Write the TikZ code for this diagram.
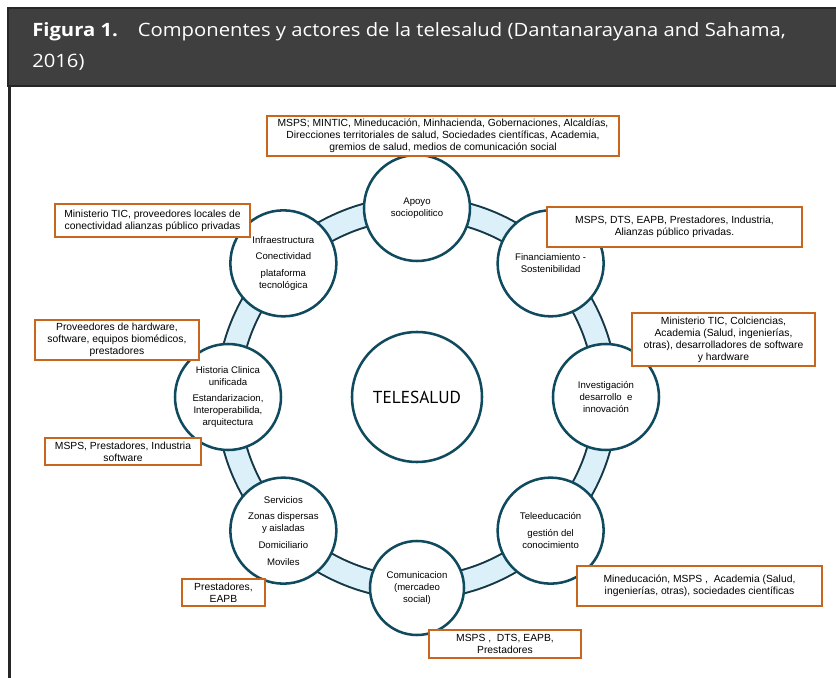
\documentclass[tikz,border=0pt]{standalone}
\usepackage{fontspec}
\setmainfont{Liberation Sans}
\newfontfamily\titlefont{Open Sans}[FakeStretch=1.1]
\newfontfamily\centrofont{PT Sans}
\usetikzlibrary{backgrounds}
\definecolor{ringline}{HTML}{0F4A5E}
\definecolor{bandfill}{HTML}{DCF0FA}
\definecolor{bandline}{HTML}{153847}
\definecolor{actorline}{HTML}{C8661E}
\definecolor{titlebar}{HTML}{3F3F3F}

\begin{document}
\begin{tikzpicture}[x=0.75pt,y=0.75pt]
    \tikzstyle{comp}=[draw=ringline,line width=1.9pt,fill=white,shape=circle,minimum size=79.5pt,inner sep=0pt,align=center,font=\fontsize{7.2}{9}\selectfont]
    \tikzstyle{actor}=[draw=actorline,line width=1.8pt,fill=white,inner sep=0pt,align=center,font=\fontsize{7.75}{9}\selectfont]
    \tikzstyle{band}=[draw=bandline,line width=1.5pt,double=bandfill,double distance=15.75pt]
    \tikzstyle{arco}=[bend left=22.5,looseness=0.886]
    \useasboundingbox (-417,-281) rectangle (419,397);
    \filldraw[fill=titlebar,draw=black!85,line width=1pt] (-409,311) rectangle (421,389);
    \draw[black!85,line width=2pt] (-407.5,311) -- (-407.5,-283);
    \node[anchor=base west,text=white,align=left,inner sep=0pt,font=\titlefont\fontsize{13.8}{23.25}\selectfont] (titulo) at (-385,329)
        {\textbf{Figura 1.}\hspace{15pt}Componentes y actores de la telesalud (Dantanarayana and Sahama,\\2016)};

    \node[comp,minimum size=97.5pt,font=\centrofont\fontsize{13}{15}\selectfont] (telesalud) at (0,0) {TELESALUD};
    \node[comp] (apoyo) at (90:189) {Apoyo\\sociopolitico};
    \node[comp] (financ) at (45:189) {Financiamiento -\\Sostenibilidad};
    \node[comp] (invest) at (0:189) {Investigación\\desarrollo\ \ e\\innovación};
    \node[comp] (teleedu) at (-45:189) {Teleeducación\\[3.5pt]gestión del\\conocimiento};
    \node[comp,minimum size=70.5pt] (comunic) at (-90:191) {Comunicacion\\(mercadeo\\social)};
    \node[comp] (servicios) at (-135:189) {Servicios\\[3.5pt]Zonas dispersas\\y aisladas\\[3.5pt]Domiciliario\\[3.5pt]Moviles};
    \node[comp] (historia) at (180:189) {Historia Clinica\\unificada\\[3.5pt]Estandarizacion,\\Interoperabilida,\\arquitectura};
    \node[comp] (infra) at (135:189) {Infraestructura\\[3.5pt]Conectividad\\[3.5pt]plataforma\\tecnológica};

    \begin{pgfonlayer}{background}
    \draw[band] (apoyo.center) to[arco] (financ.center) to[arco] (invest.center)
          to[arco] (teleedu.center) to[arco] (comunic.center) to[arco] (servicios.center)
          to[arco] (historia.center) to[arco] (infra.center) to[arco] (apoyo.center);
    \end{pgfonlayer}

    \node[actor,minimum width=264pt,minimum height=30pt] (act_apoyo) at (26,261)
        {MSPS; MINTIC, Mineducación, Minhacienda, Gobernaciones, Alcaldías,\\Direcciones territoriales de salud, Sociedades científicas, Academia,\\gremios de salud, medios de comunicación social};
    \node[actor,minimum width=146.25pt,minimum height=24.75pt] (act_infra) at (-264.5,176.5)
        {Ministerio TIC, proveedores locales de\\conectividad alianzas público privadas};
    \node[actor,minimum width=191.25pt,minimum height=30pt] (act_financ) at (257.5,170)
        {MSPS, DTS, EAPB, Prestadores, Industria,\\Alianzas público privadas.};
    \node[actor,minimum width=137.25pt,minimum height=39.75pt] (act_invest) at (306.5,57.5)
        {Ministerio TIC, Colciencias,\\Academia (Salud, ingenierías,\\otras), desarrolladores de software\\y hardware};
    \node[actor,minimum width=123pt,minimum height=30pt] (act_historia) at (-300,57)
        {Proveedores de hardware,\\software, equipos biomédicos,\\prestadores};
    \node[actor,minimum width=117pt,minimum height=20.25pt] (act_historia2) at (-294,-54.5)
        {MSPS, Prestadores, Industria\\software};
    \node[actor,minimum width=62.25pt,minimum height=20.25pt] (act_servicios) at (-193.5,-195.5)
        {Prestadores,\\EAPB};
    \node[actor,minimum width=183.75pt,minimum height=30pt] (act_teleedu) at (282.5,-189)
        {Mineducación, MSPS ,\ \ Academia (Salud,\\ingenierías, otras), sociedades científicas};
    \node[actor,minimum width=114pt,minimum height=21pt] (act_comunic) at (88,-247)
        {MSPS ,\ \ DTS, EAPB,\\Prestadores};
\end{tikzpicture}
\end{document}
